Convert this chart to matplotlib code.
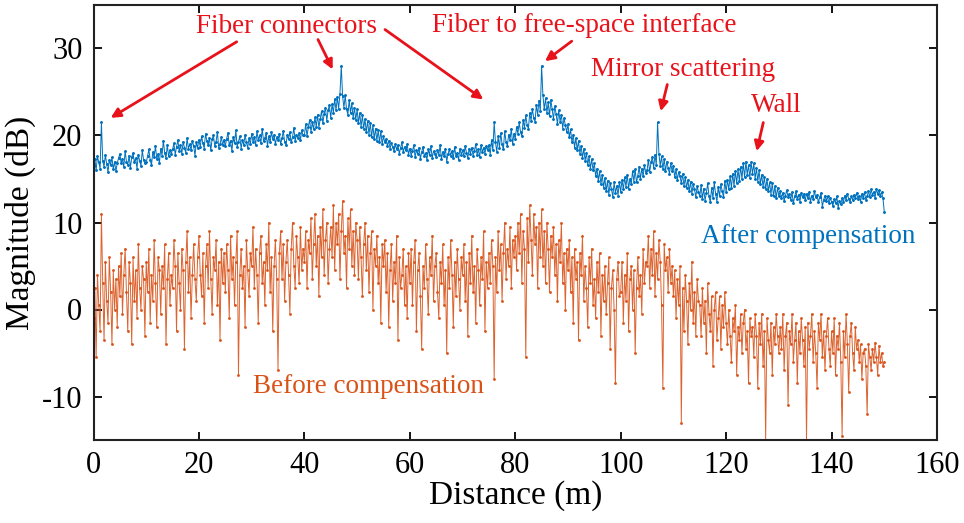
import numpy as np
import matplotlib
matplotlib.use("Agg")
import matplotlib.pyplot as plt

# Distance axis (m), 0.25 m sampling
distance_start, distance_step = 0.0, 0.25

after_comp = [
    16.5, 17.3, 16.0, 17.6, 16.9, 16.2, 21.5, 17.1, 16.4, 17.8,
    16.7, 15.8, 17.2, 16.6, 17.5, 16.1, 17.0, 15.9, 16.8, 17.4,
    17.9, 16.8, 17.3, 16.4, 18.2, 17.0, 16.6, 17.7, 16.3, 17.5,
    18.0, 16.9, 17.4, 16.2, 17.8, 17.1, 16.5, 18.3, 17.2, 16.8,
    16.9, 17.6, 18.4, 17.2, 16.6, 18.1, 17.5, 18.8, 17.3, 17.9,
    16.8, 18.5, 17.7, 19.4, 18.0, 17.4, 18.9, 17.6, 18.3, 17.9,
    18.4, 19.1, 17.8, 18.7, 19.5, 18.2, 18.9, 17.9, 19.3, 18.6,
    18.0, 19.7, 18.5, 19.0, 18.3, 19.4, 18.8, 17.7, 19.2, 18.6,
    19.5, 18.7, 19.9, 19.1, 18.5, 20.2, 19.4, 18.9, 19.7, 18.3,
    19.6, 20.0, 18.8, 19.3, 20.4, 18.6, 19.0, 19.8, 18.9, 19.5,
    18.8, 19.6, 20.3, 18.9, 19.4, 18.2, 19.8, 19.1, 20.6, 18.7,
    19.3, 19.9, 18.5, 19.5, 18.9, 20.1, 19.2, 18.6, 19.7, 19.0,
    20.2, 19.3, 19.8, 18.9, 20.5, 19.5, 20.0, 19.1, 20.8, 19.4,
    19.7, 20.3, 18.8, 19.9, 19.2, 20.4, 19.6, 20.1, 19.0, 19.8,
    19.5, 20.2, 19.0, 19.7, 20.5, 19.3, 18.9, 20.0, 19.6, 20.4,
    19.2, 19.8, 20.9, 19.4, 20.1, 19.7, 20.3, 19.5, 20.6, 20.0,
    20.0, 21.3, 19.9, 21.0, 21.8, 20.4, 21.5, 20.7, 22.1, 21.0,
    22.4, 20.9, 21.9, 22.8, 21.4, 22.5, 23.2, 21.7, 22.9, 23.5,
    22.0, 23.6, 22.6, 24.2, 22.9, 24.4, 23.1, 24.8, 28.0, 24.5,
    23.2, 24.6, 23.0, 22.4, 24.1, 22.6, 23.7, 22.0, 23.2, 21.8,
    23.0, 21.4, 22.6, 21.0, 22.3, 20.8, 21.9, 20.4, 21.7, 20.1,
    21.4, 19.8, 21.2, 19.6, 20.8, 19.4, 20.6, 19.2, 20.5, 19.0,
    19.9, 19.2, 19.6, 18.8, 19.4, 18.5, 19.1, 18.7, 18.2, 19.0,
    18.4, 18.9, 17.9, 18.6, 19.2, 18.1, 18.7, 18.3, 19.0, 17.8,
    18.5, 17.7, 18.2, 18.9, 17.5, 18.3, 17.9, 18.6, 17.3, 18.1,
    18.7, 17.6, 18.0, 17.2, 18.4, 17.8, 18.8, 17.4, 18.2, 17.9,
    17.5, 18.3, 17.8, 18.9, 17.3, 18.1, 17.6, 18.5, 17.0, 17.9,
    18.4, 17.7, 18.2, 17.4, 18.7, 17.6, 18.0, 17.2, 18.5, 17.8,
    18.3, 17.6, 18.8, 18.0, 17.4, 18.5, 17.9, 18.6, 17.7, 18.2,
    19.0, 17.8, 18.4, 17.5, 18.9, 18.1, 18.6, 17.9, 18.8, 18.3,
    18.9, 17.8, 19.5, 18.3, 21.5, 19.2, 18.1, 19.9, 18.6, 20.3,
    19.0, 18.4, 20.5, 19.3, 18.8, 20.1, 19.5, 20.8, 19.0, 20.2,
    19.6, 21.0, 20.2, 21.5, 20.4, 19.9, 21.8, 20.9, 22.3, 21.2,
    20.8, 22.6, 21.7, 23.1, 22.0, 21.6, 23.5, 22.4, 24.0, 22.8,
    28.0, 24.6, 23.0, 24.3, 22.6, 23.8, 22.2, 24.1, 23.0, 21.9,
    23.4, 22.5, 21.3, 22.9, 21.6, 22.4, 20.8, 22.0, 21.2, 20.4,
    21.3, 19.8, 20.7, 19.2, 20.1, 18.6, 19.7, 18.3, 19.4, 17.9,
    18.8, 17.4, 18.5, 17.1, 18.0, 16.6, 17.6, 16.2, 17.3, 16.0,
    16.8, 15.3, 16.2, 14.8, 15.9, 14.4, 15.5, 14.0, 15.1, 13.6,
    14.8, 13.2, 14.5, 13.9, 12.9, 14.6, 13.4, 14.2, 13.1, 14.7,
    13.5, 14.9, 13.8, 15.2, 14.1, 15.5, 13.9, 15.0, 14.4, 15.9,
    14.7, 16.1, 14.6, 15.4, 16.4, 15.0, 16.2, 15.3, 16.6, 15.7,
    16.0, 17.2, 15.8, 16.9, 17.5, 16.3, 17.8, 16.6, 21.5, 17.9,
    16.5, 17.6, 16.1, 17.3, 15.9, 17.0, 16.3, 15.6, 16.8, 15.9,
    16.5, 15.2, 16.1, 14.9, 15.8, 15.3, 14.5, 15.6, 14.2, 15.2,
    14.0, 14.9, 13.6, 14.7, 13.3, 14.4, 13.8, 12.9, 14.2, 13.5,
    13.0, 14.3, 12.7, 13.9, 12.5, 13.4, 14.5, 13.0, 12.3, 14.0,
    12.8, 14.6, 13.3, 12.4, 14.1, 13.0, 14.4, 13.6, 12.9, 14.8,
    13.5, 14.9, 13.8, 15.3, 14.0, 15.6, 14.2, 15.9, 14.5, 16.1,
    14.8, 16.4, 15.0, 16.8, 15.2, 17.0, 15.5, 16.6, 15.1, 16.9,
    15.6, 16.8, 15.0, 16.3, 14.7, 16.0, 14.4, 15.5, 14.1, 15.2,
    13.8, 15.0, 13.6, 14.6, 13.2, 14.5, 13.0, 14.2, 12.8, 14.0,
    13.0, 13.6, 12.8, 13.4, 12.5, 13.1, 13.7, 12.9, 13.3, 12.6,
    13.5, 12.2, 13.0, 13.6, 12.7, 13.2, 12.4, 13.4, 12.9, 13.3,
    12.6, 13.3, 12.8, 13.5, 12.4, 13.1, 12.7, 13.6, 12.9, 13.2,
    12.3, 12.9, 13.4, 11.8, 12.6, 13.1, 12.5, 13.0, 12.2, 12.8,
    12.4, 11.9, 12.7, 12.2, 13.0, 11.7, 12.5, 12.1, 12.8, 12.3,
    13.1, 12.6, 13.3, 12.7, 12.4, 13.0, 12.6, 13.2, 12.8, 13.4,
    12.7, 13.1, 12.4, 13.3, 12.8, 13.5, 12.6, 13.0, 13.6, 12.9,
    13.8, 13.2, 13.5, 12.8, 13.9, 13.3, 13.7, 13.1, 13.5, 12.8,
    11.2,
]

before_comp = [
    -1.0, 2.5, -5.5, 4.0, 0.5, -2.5, 11.0, 3.0, -3.5, 5.5,
    1.0, -1.5, 6.0, 2.0, -4.0, 4.5, 0.0, 3.5, -2.0, 5.0,
    1.5, 6.5, -0.5, 4.0, 7.0, 2.0, -2.5, 5.5, 3.0, -4.0,
    6.0, 1.0, 4.5, -1.0, 7.5, 2.5, 0.0, 5.0, 3.5, -3.0,
    5.5, 2.0, 7.0, -1.5, 4.0, 1.0, 8.0, 3.0, -2.0, 6.0,
    4.5, -0.5, 5.0, 2.5, 7.5, -4.0, 3.5, 6.5, 0.5, 4.0,
    2.5, 8.0, 5.0, -2.5, 6.5, 3.0, 0.0, 7.0, 4.5, -4.5,
    5.5, 9.0, 2.0, 6.0, -1.0, 4.0, 7.5, 3.5, 1.0, 6.0,
    8.5, 4.0, 1.5, 6.5, -1.5, 5.0, 7.5, 2.5, 9.0, 3.5,
    -0.5, 6.0, 4.5, 8.0, 0.5, 5.5, -3.5, 7.0, 3.0, 6.5,
    2.0, 7.5, 4.5, -1.0, 8.5, 3.5, 6.0, 0.5, 5.5, 9.0,
    -7.5, 4.0, 7.0, 2.5, 5.0, -2.0, 8.0, 4.5, 1.5, 6.5,
    5.0, 9.5, 2.5, 7.0, 4.0, -1.5, 6.5, 8.5, 3.0, 5.5,
    0.5, 7.5, 4.5, 10.0, 2.0, 6.0, -2.5, 5.0, 8.0, 3.5,
    -7.0, 6.5, 9.0, 3.5, 7.5, 1.0, 5.5, 8.0, 4.0, -0.5,
    7.0, 10.0, 5.0, 2.5, 8.5, 6.0, 3.0, 9.5, 4.5, 7.0,
    5.5, 9.0, 2.5, 8.0, 6.5, 10.5, 3.5, 7.5, 11.0, 5.0,
    8.5, 1.5, 9.5, 6.0, 11.5, 4.0, 8.0, 10.0, 3.0, 7.0,
    9.5, 6.0, 12.0, 4.5, 10.0, 7.5, 11.0, 3.5, 9.0, 12.5,
    6.5, 8.5, 2.5, 10.5, 7.0, 11.5, 5.0, 9.0, 4.0, 10.0,
    8.0, 3.5, 9.5, 6.0, 1.5, 7.5, 10.0, 4.5, 8.5, 2.0,
    6.5, 9.0, 0.0, 7.0, 5.0, 8.5, 3.0, 6.0, -1.5, 7.5,
    5.0, 8.0, 2.0, 6.5, -2.0, 4.5, 7.5, 1.0, 5.5, 3.0,
    8.5, -3.5, 6.0, 2.5, 4.0, 7.0, 0.5, 5.0, -1.0, 6.5,
    3.0, 7.0, 0.5, 5.5, 8.0, -2.5, 4.5, 6.5, 1.5, -4.5,
    5.0, 2.5, 7.5, 3.5, -0.5, 6.0, 4.0, 8.5, 1.0, 5.0,
    6.5, 2.0, -1.0, 5.5, 3.0, 7.5, 0.5, 4.5, -5.0, 6.0,
    2.5, 8.0, 4.0, -2.0, 5.5, 1.5, 7.0, 3.5, 0.0, 6.0,
    4.0, 7.5, 1.0, 5.5, -3.0, 6.5, 3.0, 8.5, 2.0, 5.0,
    -1.5, 7.0, 4.5, 0.5, 6.0, 3.5, 9.0, -2.5, 5.5, 2.5,
    6.5, 3.0, 8.0, 5.0, -8.0, 6.0, 2.0, 9.0, 4.5, 7.5,
    1.0, 6.5, 10.0, 3.5, 7.0, 5.0, 9.5, 2.5, 8.0, 6.0,
    8.5, 4.5, 10.0, 6.5, 11.0, 3.0, 9.0, 7.0, -5.5, 10.5,
    5.5, 12.0, 8.0, 4.0, 11.0, 7.5, 9.5, 2.5, 10.0, 6.0,
    11.5, 5.0, 9.0, 3.0, 10.0, 7.0, 2.0, 8.5, 6.0, 9.5,
    4.0, 7.5, 1.0, 8.0, 5.5, 10.0, 3.0, 6.5, 0.0, 7.0,
    4.5, 8.0, 2.0, 6.0, -1.5, 7.0, 3.5, 5.5, -3.5, 6.5,
    4.0, 8.5, 1.0, 5.0, 2.5, -2.0, 6.0, 3.0, 7.0, 0.5,
    3.5, -1.0, 5.5, 2.0, 6.5, -3.0, 4.0, 1.0, 5.0, -0.5,
    3.0, 6.0, -4.5, 2.5, 4.5, 0.0, -8.5, 3.5, 5.5, 1.5,
    2.0, 5.5, -1.5, 4.0, 1.0, 6.5, -2.5, 3.5, 5.0, 0.0,
    4.5, -5.0, 2.5, 6.0, 1.5, 4.0, -0.5, 7.0, 3.0, 5.5,
    5.0, 8.5, 2.5, 7.0, 4.0, 9.0, 1.5, 6.5, 3.5, 8.0,
    5.5, 0.5, -9.0, 7.5, 4.5, 6.0, 2.0, 7.0, 3.0, 5.0,
    1.5, 4.5, -1.0, 3.5, 0.5, 5.0, -13.0, 2.5, -2.5, 4.0,
    1.0, -4.0, 3.0, 0.0, 5.5, -1.5, 2.0, -3.0, 3.5, 1.0,
    0.5, -3.0, 2.5, -1.5, 1.0, -5.0, 3.0, -0.5, -2.5, 1.5,
    -6.5, 0.0, 2.0, -3.5, -1.0, 1.5, -4.5, 0.5, -2.0, 2.0,
    -1.5, -4.0, 0.0, -3.0, -6.0, -1.0, -2.5, 0.5, -7.5, -2.0,
    -3.5, -0.5, -5.0, -1.5, 0.0, -4.5, -2.5, -8.5, -1.0, -3.0,
    -2.0, -5.5, -0.5, -3.0, -9.0, -1.5, -4.0, -0.5, -6.5, -2.5,
    -15.0, -1.0, -3.5, -5.0, -1.5, -7.5, -2.0, -4.0, -0.5, -3.0,
    -5.0, -2.0, -4.5, -0.5, -7.0, -3.0, -1.5, -11.0, -2.5, -4.0,
    -0.5, -6.0, -3.5, -1.5, -8.5, -2.5, -5.0, -1.0, -3.5, -6.5,
    -2.0, -15.0, -1.5, -4.5, -3.0, -0.5, -6.0, -2.5, -5.0, -9.0,
    -1.5, -3.5, -0.5, -5.5, -2.5, -7.0, -3.0, -1.0, -4.5, -6.5,
    -2.5, -5.0, -1.0, -7.5, -3.0, -4.5, -1.5, -6.0, -14.5, -2.5,
    -5.5, -0.5, -4.0, -9.5, -3.0, -1.5, -5.0, -7.0, -2.0, -4.5,
    -3.5, -6.0, -4.0, -8.0, -5.0, -4.5, -6.5, -12.0, -4.0, -5.5,
    -7.0, -4.5, -6.0, -3.8, -5.5, -7.5, -4.2, -6.0, -5.0, -6.5,
    -6.0,
]

x_ticks = [0, 20, 40, 60, 80, 100, 120, 140, 160]
y_ticks = [-10, 0, 10, 20, 30]

labels_text = ["Fiber connectors", "Fiber to free-space interface",
               "Mirror scattering", "Wall"]

dist_after = distance_start + distance_step * np.arange(len(after_comp))
dist_before = distance_start + distance_step * np.arange(len(before_comp))

plt.rcParams['font.family'] = ['Liberation Serif', 'DejaVu Serif']
plt.rcParams['axes.unicode_minus'] = False

fig = plt.figure(figsize=(9.64, 5.23), dpi=100)
ax = fig.add_axes([93.5 / 964, 1 - 440 / 523, (937 - 93.5) / 964, 435 / 523])

blue = '#0072BD'
orange = '#D95319'

ax.plot(dist_before, before_comp, color=orange, lw=0.7, marker='.', ms=2.2, alpha=0.9)
ax.plot(dist_after, after_comp, color=blue, lw=0.7, marker='.', ms=2.2)

ax.set_xlim(0, 160)
ax.set_ylim(-15, 35)
ax.set_xticks(x_ticks)
ax.set_yticks(y_ticks)
ax.tick_params(direction='in', top=True, right=True, length=6, width=1.3,
               labelsize=22, pad=8)
for s in ax.spines.values():
    s.set_linewidth(1.5)
    s.set_color('#222222')

ax.set_xlabel('Distance (m)', fontsize=24, labelpad=0)
ax.set_ylabel('Magnitude (dB)', fontsize=24, labelpad=4)

red = '#E8121B'
fs = 19.5
ax.text(36.7, 32.5, labels_text[0], color=red, fontsize=fs, ha='center', va='center')
ax.text(93.0, 32.6, labels_text[1], color=red, fontsize=fs, ha='center', va='center')
ax.text(111.8, 27.6, labels_text[2], color=red, fontsize=fs, ha='center', va='center')
ax.text(129.5, 23.4, labels_text[3], color=red, fontsize=fs, ha='center', va='center')
ax.text(135.5, 8.4, 'After compensation', color=blue, fontsize=fs, ha='center', va='center')
ax.text(52.1, -8.9, 'Before compensation', color=orange, fontsize=fs, ha='center', va='center')

arrows = [
    ((27.16, 30.77), (3.26, 22.03)),
    ((42.58, 31.03), (45.37, 27.59)),
    ((55.29, 32.18), (73.94, 24.14)),
    ((90.71, 30.84), (85.64, 28.54)),
    ((108.84, 25.86), (107.59, 22.79)),
    ((127.05, 21.49), (125.80, 18.20)),
]
for tail, head in arrows:
    ax.annotate('', xy=head, xytext=tail,
                arrowprops=dict(arrowstyle='-|>', color=red, lw=2,
                                mutation_scale=14, shrinkA=0, shrinkB=0))

fig.savefig('out.png', dpi=100)
